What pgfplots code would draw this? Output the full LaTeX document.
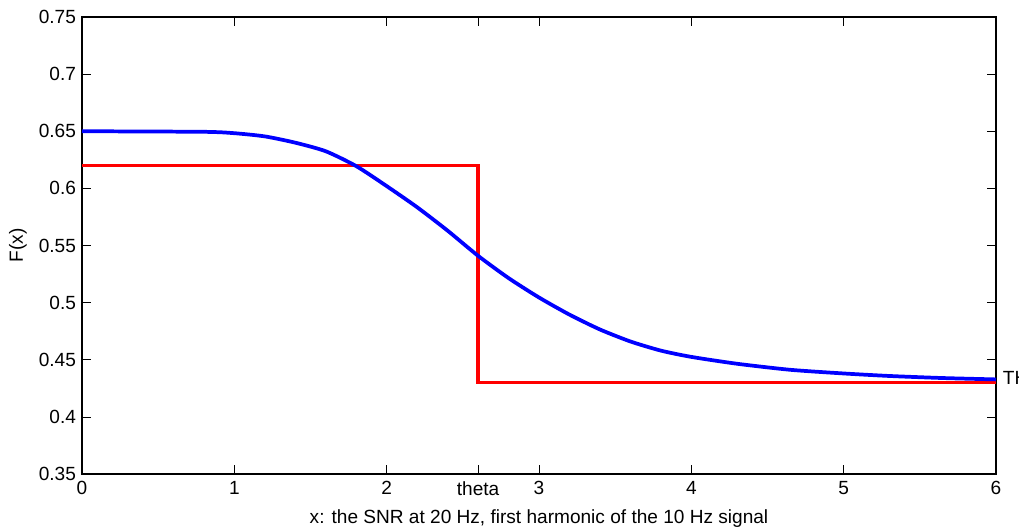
\documentclass[border=0pt]{standalone}
\usepackage{pgfplots}
\pgfplotsset{compat=1.18}
\usepackage{fontspec}
\setmainfont{Liberation Sans}
\usetikzlibrary{calc}
\begin{document}
\begin{tikzpicture}
\begin{axis}[
  scale only axis,
  width=685.5pt, height=342.75pt,
  xmin=0, xmax=6, ymin=0.35, ymax=0.75,
  xtick={0,1,2,2.6,3,4,5,6},
  xticklabels={0,1,2,theta,3,4,5,6},
  ytick={0.35,0.4,0.45,0.5,0.55,0.6,0.65,0.7,0.75},
  yticklabels={0.35,0.4,0.45,0.5,0.55,0.6,0.65,0.7,0.75},
  tick align=inside,
  major tick length=6.5pt,
  tick style={black, line width=0.5pt},
  axis line style={line width=0.8pt},
  ticklabel style={font=\fontsize{14.3}{17}\selectfont},
  xticklabel style={yshift=-2pt},
  yticklabel style={xshift=-1pt},
  /pgf/number format/assume math mode=true,
  xlabel={x: the SNR at 20 Hz, first harmonic of the 10 Hz signal},
  ylabel={F(x)},
  label style={font=\fontsize{14.3}{17}\selectfont},
  xlabel style={at={(axis description cs:0.5,0)}, anchor=center, yshift=-45pt*0.75},
  ylabel style={at={(axis description cs:0,0.5)}, anchor=center, xshift=0pt, yshift=48pt},
  clip=false,
]
\addplot[red, line width=2.8pt, line join=miter] coordinates {
  (0,0.62) (2.6,0.62) (2.6,0.43) (6,0.43)
};
\addplot[blue, line width=2.8pt, line join=round, smooth, tension=0.4] table {
x y
0     0.6500
0.8   0.6495
1.0   0.6483
1.2   0.6455
1.4   0.6400
1.6   0.6325
1.8   0.6195
2.0   0.6020
2.2   0.5835
2.4   0.5630
2.6   0.5410
2.8   0.5215
3.0   0.5045
3.2   0.4895
3.4   0.4765
3.6   0.4660
3.8   0.4580
4.0   0.4525
4.3   0.4465
4.65  0.4412
5.0   0.4380
5.3   0.4358
5.65  0.4340
6.0   0.4328
};
\node[anchor=west, font=\fontsize{14.3}{17}\selectfont, inner sep=0pt, xshift=5pt] at (axis cs:6,0.434) {THETA};
\end{axis}
\pgfresetboundingbox
\useasboundingbox ($(current axis.south west)+(-61.5pt,-41.25pt)$) rectangle ($(current axis.north east)+(17.25pt,12.75pt)$);
\end{tikzpicture}
\end{document}
